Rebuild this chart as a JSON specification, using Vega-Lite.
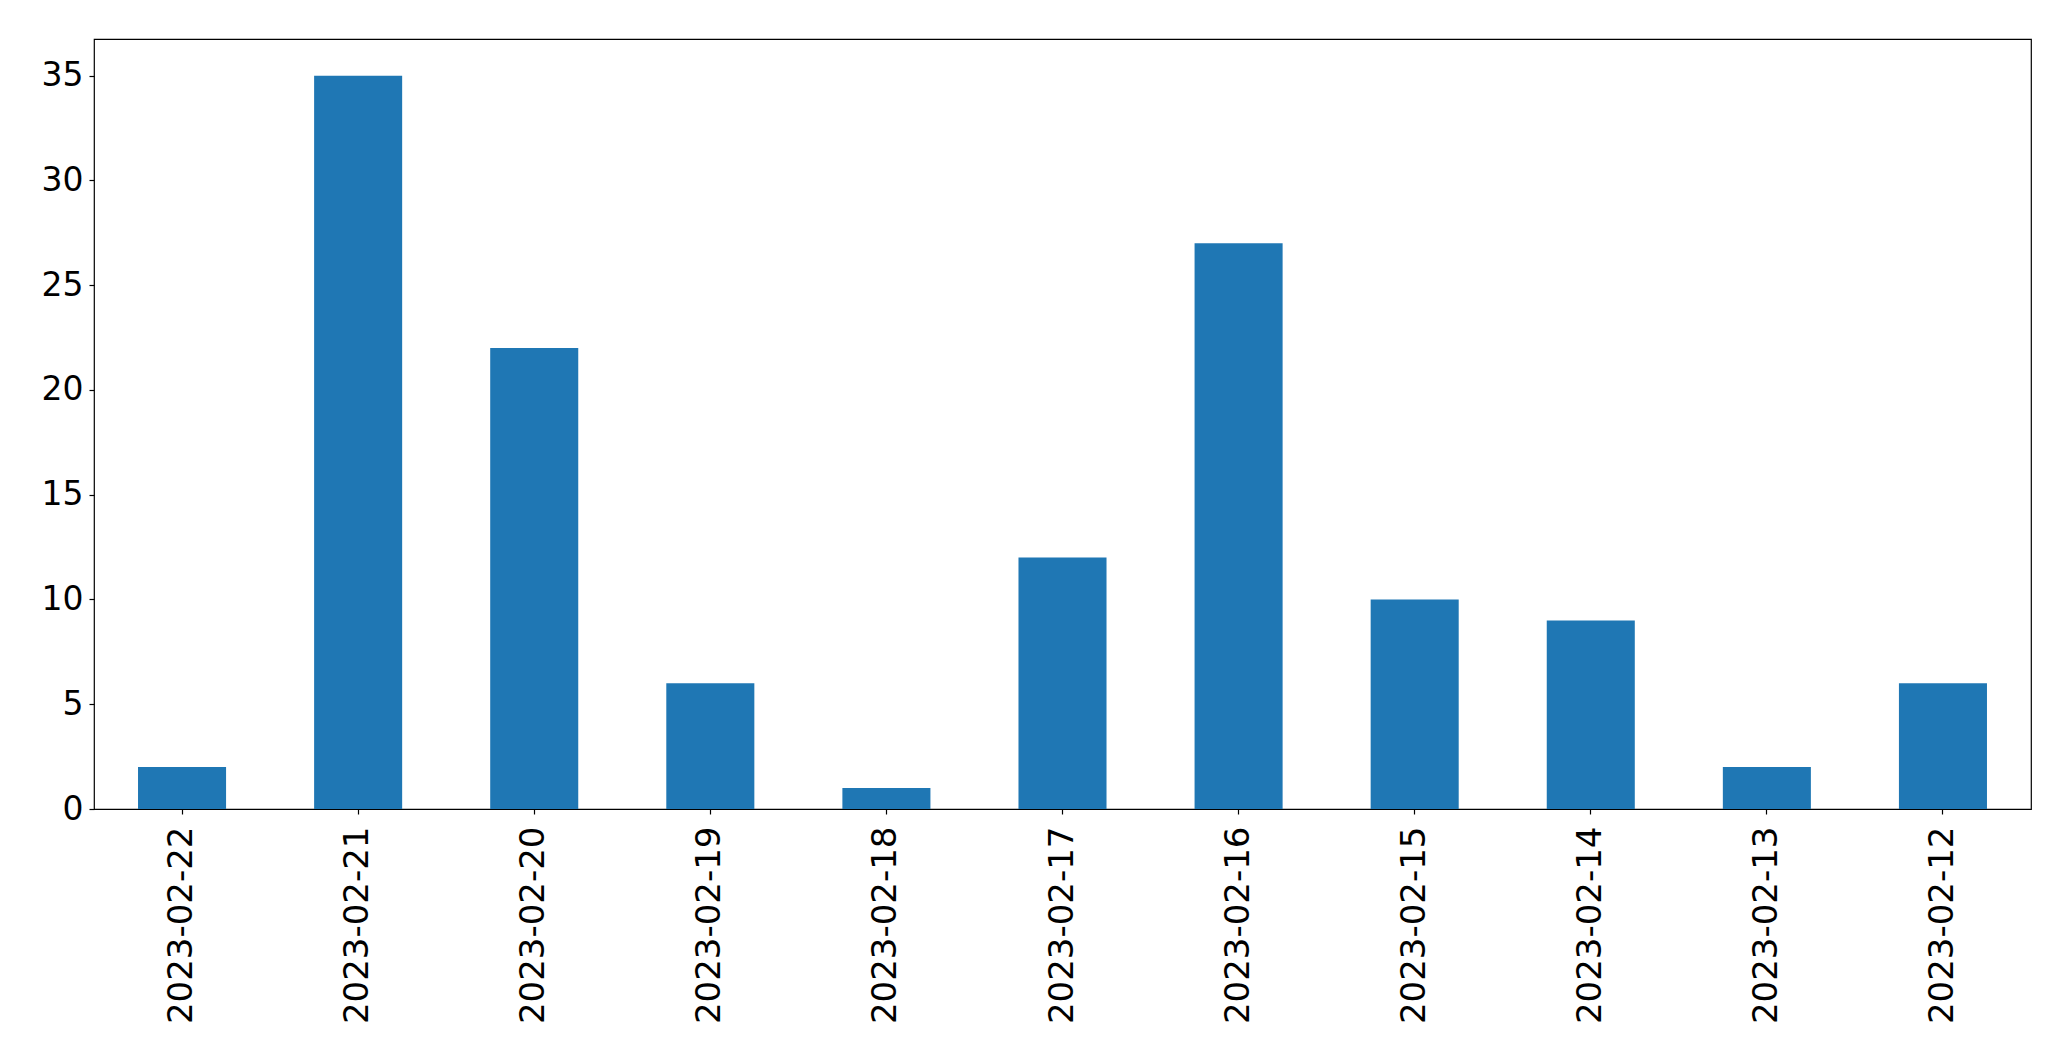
{
  "$schema": "https://vega.github.io/schema/vega-lite/v6.json",
  "width": 1937,
  "height": 770,
  "autosize": {"type": "none"},
  "padding": {"left": 94, "top": 39, "right": 40, "bottom": 252},
  "background": "white",
  "config": {
    "view": {"stroke": "black", "strokeWidth": 1.2},
    "font": "DejaVu Sans",
    "axis": {"grid": false, "domain": false, "tickColor": "black", "tickWidth": 1.2, "tickSize": 5, "labelColor": "black", "labelFont": "DejaVu Sans", "labelLimit": 0, "title": null}
  },
  "data": {
    "values": [
      {"date": "2023-02-22", "count": 2},
      {"date": "2023-02-21", "count": 35},
      {"date": "2023-02-20", "count": 22},
      {"date": "2023-02-19", "count": 6},
      {"date": "2023-02-18", "count": 1},
      {"date": "2023-02-17", "count": 12},
      {"date": "2023-02-16", "count": 27},
      {"date": "2023-02-15", "count": 10},
      {"date": "2023-02-14", "count": 9},
      {"date": "2023-02-13", "count": 2},
      {"date": "2023-02-12", "count": 6}
    ]
  },
  "mark": {"type": "bar", "color": "#1f77b4"},
  "encoding": {
    "x": {
      "field": "date", "type": "nominal", "sort": null,
      "scale": {"paddingInner": 0.5, "paddingOuter": 0.25},
      "axis": {"labelAngle": 270, "labelFontSize": 34, "labelPadding": 12, "labelAlign": "right", "labelBaseline": "middle", "labelLimit": 0}
    },
    "y": {
      "field": "count", "type": "quantitative",
      "scale": {"domain": [0, 36.75], "nice": false, "zero": true},
      "axis": {"values": [0, 5, 10, 15, 20, 25, 30, 35], "labelFontSize": 33, "labelPadding": 6}
    }
  }
}
